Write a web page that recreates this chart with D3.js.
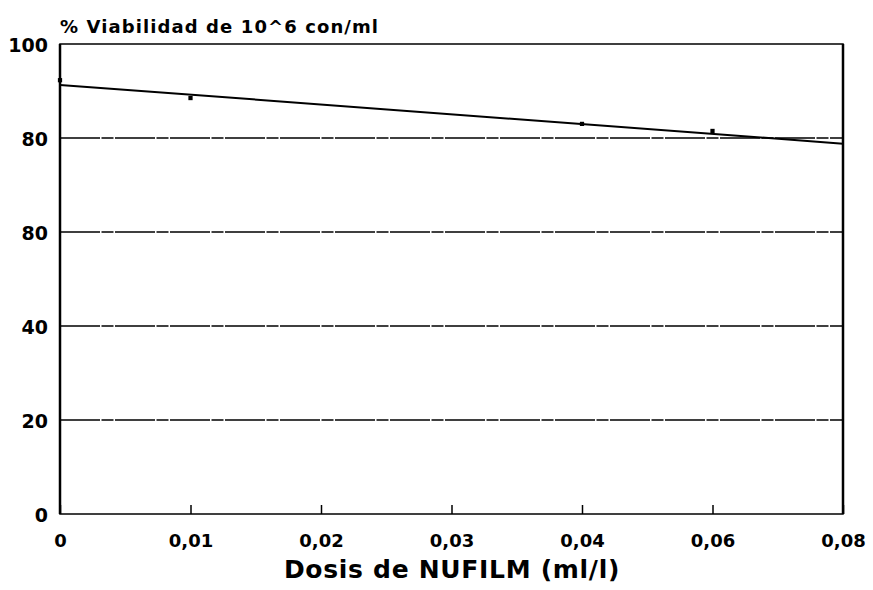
<!DOCTYPE html>
<html>
<head>
<meta charset="utf-8">
<script src="https://cdn.jsdelivr.net/npm/d3@7"></script>
<style>
	body { margin: 0; background: #fff; }
	svg text { font-family: "DejaVu Sans", "Liberation Sans", sans-serif; font-weight: bold; fill: #000; }
</style>
</head>
<body>
<svg id="plot" width="873" height="590"></svg>
<script>
// measured points (dose ml/l, % viability)
const doses = [0, 0.01, 0.04, 0.05];
const viab = [92.3, 88.5, 83, 81.5];
// fitted line ends
const fitX = [0, 0.06];
const fitY = [91.3, 78.8];

const xTicks = [0, 0.01, 0.02, 0.03, 0.04, 0.05, 0.06];
const xTickLabels = ["0", "0,01", "0,02", "0,03", "0,04", "0,06", "0,08"];
const yTicks = [0, 20, 40, 60, 80, 100];
const yTickLabels = ["0", "20", "40", "80", "80", "100"];

const svg = d3.select("#plot");
const plotLeft = 60, plotRight = 843, plotTop = 44, plotBottom = 514;

const x = d3.scaleLinear().domain([0, 0.06]).range([plotLeft, plotRight]);
const y = d3.scaleLinear().domain([0, 100]).range([plotBottom, plotTop]);

// grid lines
svg.append("g")
	.selectAll("line")
	.data([20, 40, 60, 80])
	.enter()
	.append("line")
	.attr("x1", plotLeft).attr("x2", plotRight)
	.attr("y1", d => y(d)).attr("y2", d => y(d))
	.attr("stroke", "#000")
	.attr("stroke-width", 1.3)
	.attr("stroke-dasharray", "40 1.5 12 1.5");

// frame
svg.append("rect")
	.attr("x", plotLeft).attr("y", plotTop)
	.attr("width", plotRight - plotLeft).attr("height", plotBottom - plotTop)
	.attr("fill", "none")
	.attr("stroke", "#000")
	.attr("stroke-width", 1.5);
svg.append("line")
	.attr("x1", plotLeft).attr("x2", plotLeft).attr("y1", plotTop).attr("y2", plotBottom)
	.attr("stroke", "#000").attr("stroke-width", 2.5);
svg.append("line")
	.attr("x1", plotRight).attr("x2", plotRight).attr("y1", plotTop).attr("y2", plotBottom)
	.attr("stroke", "#000").attr("stroke-width", 2.5);

// x axis
const xAxis = d3.axisBottom(x)
	.tickValues(xTicks)
	.tickSize(0)
	.tickPadding(20)
	.tickFormat((d, i) => xTickLabels[i]);
const gx = svg.append("g").attr("transform", "translate(0," + plotBottom + ")").call(xAxis);
gx.select(".domain").remove();
gx.selectAll("text")
	.style("font-size", "18px");
gx.selectAll(".tick")
	.append("line")
	.attr("y1", 0).attr("y2", -9)
	.attr("stroke", "#000").attr("stroke-width", 1.5);

// y axis
const yAxis = d3.axisLeft(y)
	.tickValues(yTicks)
	.tickSize(0)
	.tickPadding(12)
	.tickFormat((d, i) => yTickLabels[i]);
const gy = svg.append("g").attr("transform", "translate(" + plotLeft + ",0)").call(yAxis);
gy.select(".domain").remove();
gy.selectAll("text")
	.style("font-size", "19px")
	.attr("dy", "0.4em");

// fitted line
const line = d3.line()
	.x(d => x(d[0]))
	.y(d => y(d[1]));
svg.append("path")
	.datum(fitX.map((v, i) => [v, fitY[i]]))
	.attr("d", line)
	.attr("fill", "none")
	.attr("stroke", "#000")
	.attr("stroke-width", 2);

// data points
svg.append("g")
	.selectAll("path")
	.data(doses.map((v, i) => [v, viab[i]]))
	.enter()
	.append("path")
	.attr("d", d3.symbol().type(d3.symbolSquare).size(18))
	.attr("transform", d => "translate(" + x(d[0]) + "," + y(d[1]) + ")")
	.attr("fill", "#000");

// titles
svg.append("text")
	.attr("x", 60).attr("y", 33)
	.style("font-size", "18px")
	.style("letter-spacing", "1.1px")
	.text("% Viabilidad de 10^6 con/ml");

svg.append("text")
	.attr("x", 452).attr("y", 578)
	.attr("text-anchor", "middle")
	.style("font-size", "25px")
	.style("letter-spacing", "0.7px")
	.text("Dosis de NUFILM (ml/l)");
</script>
</body>
</html>
